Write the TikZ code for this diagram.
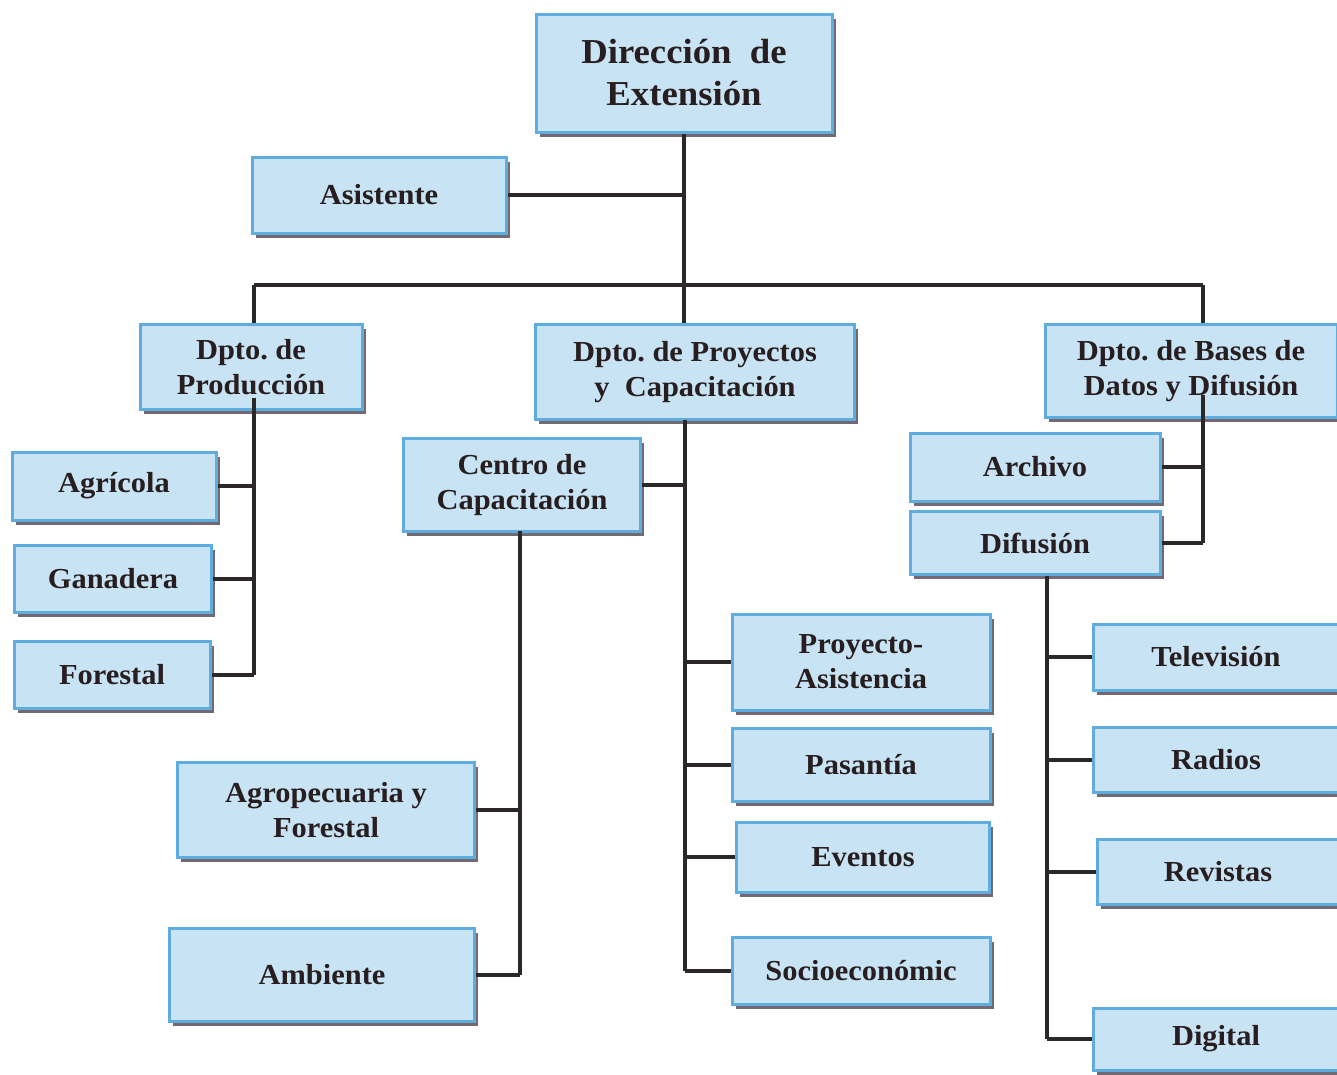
\documentclass[tikz,border=0pt]{standalone}
\usepackage{fontspec}
\setmainfont{Liberation Serif}[FakeStretch=1.05]
\usetikzlibrary{shadows}
\definecolor{boxfill}{RGB}{200,228,244}
\definecolor{boxline}{RGB}{95,172,222}
\definecolor{txt}{RGB}{40,30,32}
\definecolor{conn}{RGB}{45,40,40}
\definecolor{shad}{RGB}{115,105,115}
\frenchspacing
\begin{document}
\begin{tikzpicture}[x=1pt,y=-1pt,
  box/.style={draw=boxline, line width=3pt, fill=boxfill, inner sep=0pt,
    align=center, text=txt,
    font=\fontsize{29}{35}\selectfont\bfseries,
    drop shadow={shadow xshift=3.5pt, shadow yshift=-4.5pt, fill=shad, opacity=1}},
  bigbox/.style={box, font=\fontsize{35}{42}\selectfont\bfseries},
  conn/.style={draw=conn, line width=3.2pt}]
\useasboundingbox[fill=white] (0,0) rectangle (1337,1074);

% nodes
\node[bigbox, minimum width=296pt, minimum height=118pt] (dir) at (684,73) {Dirección~ de\\Extensión};
\node[box, minimum width=254pt, minimum height=76pt] (asis) at (379,195) {Asistente};
\node[box, minimum width=222pt, minimum height=85pt] (prod) at (251,367) {Dpto. de\\Producción};
\node[box, minimum width=319pt, minimum height=95pt] (proy) at (695,372) {Dpto. de Proyectos\\y~ Capacitación};
\node[box, minimum width=292pt, minimum height=93pt] (bases) at (1191,371) {Dpto. de Bases de\\Datos y Difusión};

\node[box, minimum width=204pt, minimum height=68pt] (agri) at (114,486) {Agrícola};
\node[box, minimum width=197pt, minimum height=67pt] (gana) at (113,579) {Ganadera};
\node[box, minimum width=196pt, minimum height=67pt] (fore) at (112,675) {Forestal};

\node[box, minimum width=237pt, minimum height=93pt] (centro) at (522,485) {Centro de\\Capacitación};
\node[box, minimum width=297pt, minimum height=95pt] (agro) at (326,810) {Agropecuaria y\\Forestal};
\node[box, minimum width=305pt, minimum height=93pt] (amb) at (322,975) {Ambiente};

\node[box, minimum width=258pt, minimum height=96pt] (pa) at (861,662) {Proyecto-\\Asistencia};
\node[box, minimum width=258pt, minimum height=73pt] (pas) at (861,765) {Pasantía};
\node[box, minimum width=253pt, minimum height=70pt] (eve) at (863,857) {Eventos};
\node[box, minimum width=258pt, minimum height=67pt] (soc) at (861,971) {Socioeconómic};

\node[box, minimum width=250pt, minimum height=68pt] (arch) at (1035,467) {Archivo};
\node[box, minimum width=250pt, minimum height=63pt] (difu) at (1035,543) {Difusión};

\node[box, minimum width=246pt, minimum height=66pt] (tv) at (1216,657) {Televisión};
\node[box, minimum width=246pt, minimum height=65pt] (rad) at (1216,760) {Radios};
\node[box, minimum width=241pt, minimum height=65pt] (rev) at (1218,872) {Revistas};
\node[box, minimum width=246pt, minimum height=62pt] (dig) at (1216,1039) {Digital};

% connectors
\coordinate (bus) at (684,285);
\coordinate (busL) at (254,285);
\coordinate (busR) at (1203,285);
\draw[conn] (dir.south) -- (bus);
\draw[conn] (asis.east) -- (asis.east -| dir.south);
\draw[conn] (busL) -- (busR);
\draw[conn] (busL) -- (busL |- prod.north);
\draw[conn] (bus) -- (bus |- proy.north);
\draw[conn] (busR) -- (busR |- bases.north);

% Producción branch
\coordinate (prodT) at (254,398);
\draw[conn] (prodT) -- (prodT |- fore.east);
\draw[conn] (agri.east) -- (agri.east -| prodT);
\draw[conn] (gana.east) -- (gana.east -| prodT);
\draw[conn] (fore.east) -- (fore.east -| prodT);

% Proyectos branch
\coordinate (proyT) at (685,420);
\draw[conn] (proyT) -- (proyT |- soc.west);
\draw[conn] (centro.east) -- (centro.east -| proyT);
\draw[conn] (pa.west) -- (pa.west -| proyT);
\draw[conn] (pas.west) -- (pas.west -| proyT);
\draw[conn] (eve.west) -- (eve.west -| proyT);
\draw[conn] (soc.west) -- (soc.west -| proyT);

% Centro branch
\coordinate (cenT) at (520,531);
\draw[conn] (cenT) -- (cenT |- amb.east);
\draw[conn] (agro.east) -- (agro.east -| cenT);
\draw[conn] (amb.east) -- (amb.east -| cenT);

% Bases branch
\coordinate (basT) at (1203,395);
\draw[conn] (basT) -- (basT |- difu.east);
\draw[conn] (arch.east) -- (arch.east -| basT);
\draw[conn] (difu.east) -- (difu.east -| basT);

% Difusión branch
\coordinate (difT) at (1047,576);
\draw[conn] (difT) -- (difT |- dig.west);
\draw[conn] (tv.west) -- (tv.west -| difT);
\draw[conn] (rad.west) -- (rad.west -| difT);
\draw[conn] (rev.west) -- (rev.west -| difT);
\draw[conn] (dig.west) -- (dig.west -| difT);
\end{tikzpicture}
\end{document}
